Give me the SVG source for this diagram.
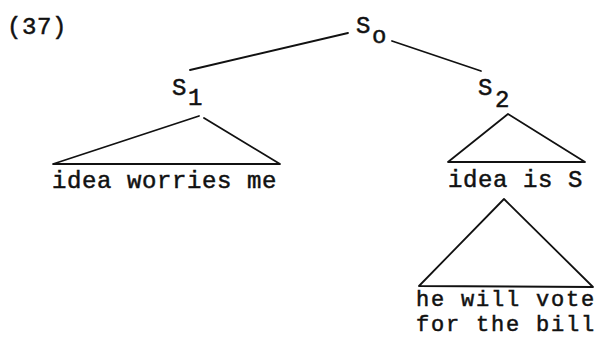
<svg xmlns="http://www.w3.org/2000/svg" width="601" height="343" viewBox="0 0 601 343">
  <style>
    .t { font-family: "Liberation Mono", "DejaVu Sans Mono", monospace; font-size: 24px; letter-spacing: 0.6px; fill: #111; stroke: #111; stroke-width: 0.5; }
    .sm { font-size: 22px; letter-spacing: 1.8px; }
    .e { fill: none; stroke: #111; stroke-width: 1.8; stroke-linecap: round; stroke-linejoin: round; }
  </style>
  <rect width="601" height="343" fill="#fff"/>

  <!-- example number -->
  <g id="label">
    <text class="t" x="7" y="34">(37)</text>
  </g>

  <!-- tree nodes -->
  <g id="s0">
    <text class="t" x="356" y="33">S</text>
    <text class="t" x="372" y="43">o</text>
  </g>
  <g id="s1">
    <text class="t" x="172" y="95">S</text>
    <text class="t" x="188" y="105">1</text>
  </g>
  <g id="s2">
    <text class="t" x="478" y="95">S</text>
    <text class="t" x="495" y="107">2</text>
  </g>
  <g id="s1-yield">
    <text class="t" x="52" y="188">idea worries me</text>
  </g>
  <g id="s2-yield">
    <text class="t" x="448" y="187">idea is S</text>
  </g>
  <g id="s-yield">
    <text class="t sm" x="416" y="306">he will vote</text>
    <text class="t sm" x="416" y="331">for the bill</text>
  </g>

  <!-- branches and subtree triangles -->
  <g id="connectors">
    <line class="e" x1="348" y1="33" x2="190" y2="70"/>
    <line class="e" x1="392" y1="41" x2="481" y2="71"/>
    <path class="e" d="M199 116 L53 164 L280 164 L204 118"/>
    <path class="e" d="M508 114 L448 162 L585 162 Z"/>
    <path class="e" d="M504 199 L419 286 L593 287 Z"/>
  </g>
</svg>
